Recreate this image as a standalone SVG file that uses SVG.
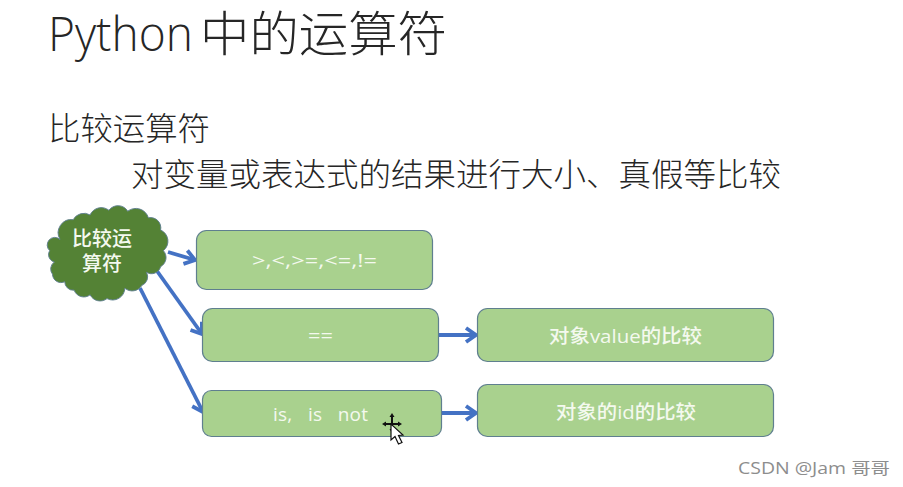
<svg xmlns="http://www.w3.org/2000/svg" width="903" height="487" viewBox="0 0 903 487">
<style>
text{font-family:"Open Sans","Noto Sans CJK SC",sans-serif}
.t{fill:#262626;font-weight:300}
.box{fill:#a9d18e;stroke:#5f7f8f;stroke-width:1.2}
.l{fill:#f4f9ef;font-size:19px;font-weight:500}
.c{stroke:#4472c4;stroke-width:3.8;fill:none}
</style>
<defs>
<marker id="arr" markerUnits="userSpaceOnUse" markerWidth="18" markerHeight="18" refX="14" refY="8" orient="auto" viewBox="0 0 18 16">
<path d="M4 1L14 8L4 15" fill="none" stroke="#4472c4" stroke-width="3.8"/>
</marker>
</defs>
<rect width="903" height="487" fill="#fff"/>
<text class="t" font-size="48" y="51"><tspan x="48" textLength="145" lengthAdjust="spacingAndGlyphs">Python</tspan><tspan x="200" textLength="247" lengthAdjust="spacingAndGlyphs">中的运算符</tspan></text>
<text class="t" x="48" y="140" font-size="32" textLength="162" lengthAdjust="spacingAndGlyphs">比较运算符</text>
<text class="t" x="131" y="186" font-size="32" textLength="650" lengthAdjust="spacingAndGlyphs">对变量或表达式的结果进行大小、真假等比较</text>
<g id="connectors">
<path class="c" d="M168 252L195 260" marker-end="url(#arr)"/>
<path class="c" d="M157 271L202 334" marker-end="url(#arr)"/>
<path class="c" d="M140 288L203 412" marker-end="url(#arr)"/>
<path class="c" d="M438 335L476 335" marker-end="url(#arr)"/>
<path class="c" d="M442 413L476 413" marker-end="url(#arr)"/>
</g>
<g id="cloud">
<path transform="translate(107.500 253.500) scale(.94) translate(-108.500 -253)" d="M58 238A14 14 0 0 1 72 217A13 13 0 0 1 90 212A13 13 0 0 1 110 207A12 12 0 0 1 130 208A14 14 0 0 1 152 215A11 11 0 0 1 165 228A13 13 0 0 1 168 250A11 11 0 0 1 165 267A10 10 0 0 1 150 273A10 10 0 0 1 145 287A12 12 0 0 1 127 290A13 13 0 0 1 108 301A12 12 0 0 1 90 297A11 11 0 0 1 73 292A9 9 0 0 1 63 283A9 9 0 0 1 50 275A9 9 0 0 1 52 262A8 8 0 0 1 47 250A8 8 0 0 1 58 238Z" fill="#548235" stroke="#5f7f8f" stroke-width="1"/>
<text x="102" y="246" fill="#f4f9ef" font-size="20" font-weight="500" text-anchor="middle">比较运</text>
<text x="102" y="271" fill="#f4f9ef" font-size="20" font-weight="500" text-anchor="middle">算符</text>
</g>
<g id="n1"><rect class="box" x="196.500" y="230.500" width="236" height="59" rx="10"/><text class="l" x="252" y="267" textLength="125" lengthAdjust="spacingAndGlyphs">&gt;,&lt;,&gt;=,&lt;=,!=</text></g>
<g id="n2"><rect class="box" x="202.500" y="308.500" width="236" height="53" rx="10"/><text class="l" x="308" y="342" textLength="25" lengthAdjust="spacingAndGlyphs">==</text></g>
<g id="n3"><rect class="box" x="202.500" y="390.500" width="239" height="46" rx="9"/><text class="l" x="273" y="421" xml:space="preserve" textLength="95" lengthAdjust="spacing">is,   is   not</text></g>
<g id="n4"><rect class="box" x="477.500" y="308.500" width="296" height="53" rx="10"/><text class="l" x="549" y="343" textLength="153" lengthAdjust="spacingAndGlyphs">对象value的比较</text></g>
<g id="n5"><rect class="box" x="477.500" y="384.500" width="296" height="52" rx="10"/><text class="l" x="556" y="419" textLength="140" lengthAdjust="spacingAndGlyphs">对象的id的比较</text></g>
<g id="cursor">
<path d="M392 415V431M384 424H400" stroke="#111" stroke-width="2" fill="none"/>
<path d="M392 413l-2.500 4h5zM392 433l-2.500-4h5zM382 424l4-2.500v5zM402 424l-4-2.500v5z" fill="#111"/>
<path d="M391 424V440L395 436.500L398.500 444L402 442.500L398.500 435.500L403 435Z" fill="#fff" stroke="#111" stroke-width="1.200"/>
</g>
<text x="738" y="474" fill="#8d8d8d" font-size="16" textLength="152" lengthAdjust="spacingAndGlyphs">CSDN @Jam 哥哥</text>
</svg>
